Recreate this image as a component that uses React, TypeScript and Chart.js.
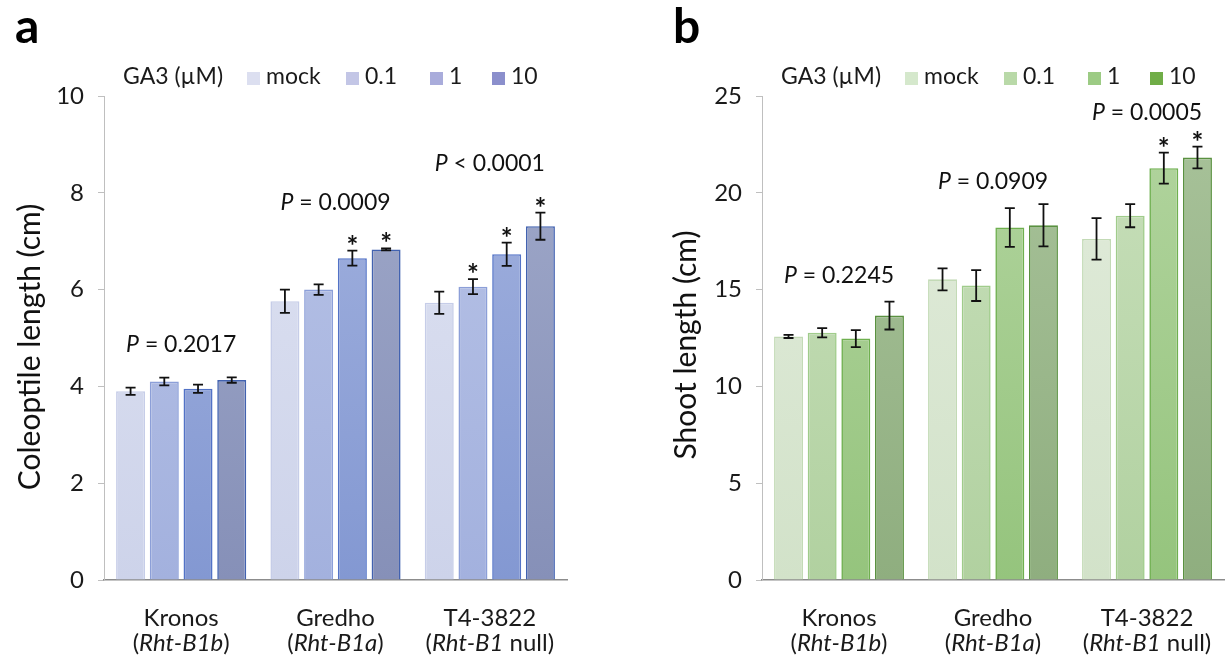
import React, { useEffect, useRef } from "react";
import { Chart, registerables } from "chart.js";
Chart.register(...registerables);

// ---------- shared categories ----------
const groups = ["Kronos", "Gredho", "T4-3822"];
const alleles = ["Rht-B1b", "Rht-B1a", "Rht-B1"];
const alleleSuffix = ["", "", " null"];
const treatments = ["mock", "0.1", "1", "10"];

// ---------- panel a: coleoptile length (cm) ----------
const coleoptileMock = [3.9, 5.76, 5.73];
const coleoptile01 = [4.1, 6.0, 6.06];
const coleoptile1 = [3.95, 6.65, 6.73];
const coleoptile10 = [4.13, 6.83, 7.31];
const coleoptileMockErr = [0.075, 0.24, 0.23];
const coleoptile01Err = [0.08, 0.11, 0.155];
const coleoptile1Err = [0.085, 0.155, 0.24];
const coleoptile10Err = [0.055, 0.02, 0.28];
const coleoptileSigMock = [false, false, false];
const coleoptileSig01 = [false, false, true];
const coleoptileSig1 = [false, true, true];
const coleoptileSig10 = [false, true, true];
const coleoptilePOp = ["=", "=", "<"];
const coleoptilePValue = ["0.2017", "0.0009", "0.0001"];
const coleoptilePLevel = [4.87, 7.8, 8.6];
const coleoptileTicks = [0, 2, 4, 6, 8, 10];

// ---------- panel b: shoot length (cm) ----------
const shootMock = [12.58, 15.53, 17.62];
const shoot01 = [12.77, 15.21, 18.82];
const shoot1 = [12.47, 18.21, 21.27];
const shoot10 = [13.66, 18.32, 21.82];
const shootMockErr = [0.08, 0.57, 1.07];
const shoot01Err = [0.24, 0.8, 0.6];
const shoot1Err = [0.44, 1.0, 0.8];
const shoot10Err = [0.72, 1.09, 0.56];
const shootSigMock = [false, false, false];
const shootSig01 = [false, false, false];
const shootSig1 = [false, false, true];
const shootSig10 = [false, false, true];
const shootPOp = ["=", "=", "="];
const shootPValue = ["0.2245", "0.0909", "0.0005"];
const shootPLevel = [15.7, 20.6, 24.16];
const shootTicks = [0, 5, 10, 15, 20, 25];

const FONT = "Lato";
const TEXT = "#1a1a1a";

type PanelCfg = {
  letter: string;
  letterX: number;
  yTitle: string;
  titleX: number;
  titleY: number;
  ticks: number[];
  series: number[][];
  errors: number[][];
  sig: boolean[][];
  pOp: string[];
  pValue: string[];
  pLevel: number[];
  fillTop: string[];
  fillBottom: string[];
  borders: string[];
  legendColors: string[];
  areaLeft: number;
  areaRight: number;
  width: number;
};

const panelA: PanelCfg = {
  letter: "a",
  letterX: 15,
  yTitle: "Coleoptile length (cm)",
  titleX: 30,
  titleY: 347,
  ticks: coleoptileTicks,
  series: [coleoptileMock, coleoptile01, coleoptile1, coleoptile10],
  errors: [coleoptileMockErr, coleoptile01Err, coleoptile1Err, coleoptile10Err],
  sig: [coleoptileSigMock, coleoptileSig01, coleoptileSig1, coleoptileSig10],
  pOp: coleoptilePOp,
  pValue: coleoptilePValue,
  pLevel: coleoptilePLevel,
  fillTop: ["#dfe3f2", "#b9c4e7", "#a4b3df", "#a1aaca"],
  fillBottom: ["#cdd3ea", "#a3b1de", "#8398d2", "#8690b8"],
  borders: ["#c6cde8", "#8c9fd8", "#5272c6", "#4262b0"],
  legendColors: ["#dcdff0", "#c3c6e6", "#a9acdb", "#8b8fcc"],
  areaLeft: 104,
  areaRight: 567,
  width: 612,
};

const panelB: PanelCfg = {
  letter: "b",
  letterX: 61,
  yTitle: "Shoot length (cm)",
  titleX: 74,
  titleY: 345,
  ticks: shootTicks,
  series: [shootMock, shoot01, shoot1, shoot10],
  errors: [shootMockErr, shoot01Err, shoot1Err, shoot10Err],
  sig: [shootSigMock, shootSig01, shootSig1, shootSig10],
  pOp: shootPOp,
  pValue: shootPValue,
  pLevel: shootPLevel,
  fillTop: ["#e2ecdc", "#c9e0bc", "#b3d5a0", "#a9c39b"],
  fillBottom: ["#d2e2c9", "#b1d1a0", "#95c47d", "#8fae7f"],
  borders: ["#c3dab6", "#a0cc8b", "#6fb04f", "#5a9140"],
  legendColors: ["#d5e8cc", "#b9d9a8", "#9ccb84", "#70ad47"],
  areaLeft: 150,
  areaRight: 612,
  width: 613,
};

const annotPlugin = {
  id: "annot",
  afterDatasetsDraw(chart: any, _args: any, opts: any) {
    const cfg: PanelCfg = opts.cfg;
    const ctx = chart.ctx;
    const ys = chart.scales.y;
    const xs = chart.scales.x;
    ctx.save();
    // error bars + asterisks
    cfg.series.forEach((vals, k) => {
      const meta = chart.getDatasetMeta(k);
      vals.forEach((v, j) => {
        const bar = meta.data[j];
        const e = cfg.errors[k][j];
        const x = bar.x;
        const yT = ys.getPixelForValue(v + e);
        const yB = ys.getPixelForValue(v - e);
        ctx.strokeStyle = "#111";
        ctx.lineWidth = 1.8;
        ctx.beginPath();
        ctx.moveTo(x, yT);
        ctx.lineTo(x, yB);
        ctx.moveTo(x - 5, yT);
        ctx.lineTo(x + 5, yT);
        ctx.moveTo(x - 5, yB);
        ctx.lineTo(x + 5, yB);
        ctx.stroke();
        if (cfg.sig[k][j]) {
          ctx.fillStyle = "#111";
          ctx.font = `bold 28px ${FONT}`;
          ctx.textAlign = "center";
          ctx.textBaseline = "alphabetic";
          ctx.fillText("*", x, yT + 5);
        }
      });
    });
    // P labels
    groups.forEach((_g, j) => {
      const cx = xs.getPixelForValue(j);
      const cy = ys.getPixelForValue(cfg.pLevel[j]);
      const rest = ` ${cfg.pOp[j]} ${cfg.pValue[j]}`;
      ctx.font = `italic 23px ${FONT}`;
      const wP = ctx.measureText("P").width;
      ctx.font = `23px ${FONT}`;
      const wR = ctx.measureText(rest).width;
      const x0 = cx - (wP + wR) / 2;
      ctx.fillStyle = "#111";
      ctx.textAlign = "left";
      ctx.textBaseline = "middle";
      ctx.font = `italic 23px ${FONT}`;
      ctx.fillText("P", x0, cy);
      ctx.font = `23px ${FONT}`;
      ctx.fillText(rest, x0 + wP, cy);
    });
    ctx.restore();
  },
  afterDraw(chart: any, _args: any, opts: any) {
    const cfg: PanelCfg = opts.cfg;
    const ctx = chart.ctx;
    const area = chart.chartArea;
    const xs = chart.scales.x;
    ctx.save();
    // panel letter
    ctx.fillStyle = "#000";
    ctx.font = `bold 48px ${FONT}`;
    ctx.textAlign = "left";
    ctx.textBaseline = "alphabetic";
    ctx.fillText(cfg.letter, cfg.letterX, 43);
    // legend
    const lx = area.left + 19;
    const ly = 77;
    ctx.font = `23px ${FONT}`;
    ctx.textBaseline = "middle";
    ctx.fillStyle = TEXT;
    ctx.fillText("GA3 (µM)", lx, ly);
    const offs = [124, 223, 307, 369];
    treatments.forEach((t, k) => {
      const bx = lx + offs[k];
      ctx.fillStyle = cfg.legendColors[k];
      ctx.fillRect(bx, ly - 5, 13, 13);
      ctx.fillStyle = TEXT;
      ctx.fillText(t, bx + 19, ly);
    });
    // x labels
    groups.forEach((g, j) => {
      const cx = xs.getPixelForValue(j);
      ctx.fillStyle = TEXT;
      ctx.textAlign = "center";
      ctx.font = `24px ${FONT}`;
      ctx.fillText(g, cx, 618);
      const a = alleles[j];
      const s = alleleSuffix[j] + ")";
      ctx.font = `24px ${FONT}`;
      const w1 = ctx.measureText("(").width;
      const w3 = ctx.measureText(s).width;
      ctx.font = `italic 24px ${FONT}`;
      const w2 = ctx.measureText(a).width;
      const x0 = cx - (w1 + w2 + w3) / 2;
      ctx.textAlign = "left";
      ctx.font = `24px ${FONT}`;
      ctx.fillText("(", x0, 643);
      ctx.font = `italic 24px ${FONT}`;
      ctx.fillText(a, x0 + w1, 643);
      ctx.font = `24px ${FONT}`;
      ctx.fillText(s, x0 + w1 + w2, 643);
    });
    // y title
    ctx.translate(cfg.titleX, cfg.titleY);
    ctx.rotate(-Math.PI / 2);
    ctx.textAlign = "center";
    ctx.textBaseline = "middle";
    ctx.fillStyle = "#111";
    ctx.font = `30px ${FONT}`;
    ctx.fillText(cfg.yTitle, 0, 0);
    ctx.restore();
  },
};

function makeGradient(top: string, bottom: string) {
  return (c: any) => {
    const ch = c.chart;
    const a = ch.chartArea;
    if (!a) return bottom;
    const g = ch.ctx.createLinearGradient(0, a.top, 0, a.bottom);
    g.addColorStop(0, top);
    g.addColorStop(1, bottom);
    return g;
  };
}

function Panel({ cfg }: { cfg: PanelCfg }) {
  const ref = useRef<HTMLCanvasElement | null>(null);
  useEffect(() => {
    if (!ref.current) return;
    const yMax = cfg.ticks[cfg.ticks.length - 1];
    const step = cfg.ticks[1] - cfg.ticks[0];
    const chart = new Chart(ref.current, {
      type: "bar",
      data: {
        labels: groups,
        datasets: treatments.map((t, k) => ({
          label: t,
          data: cfg.series[k],
          backgroundColor: makeGradient(cfg.fillTop[k], cfg.fillBottom[k]),
          borderColor: cfg.borders[k],
          borderWidth: 1.6,
          categoryPercentage: 0.874,
          barPercentage: 0.86,
        })),
      },
      options: {
        responsive: false,
        animation: false,
        layout: { padding: { top: 96, right: cfg.width - cfg.areaRight, left: 0, bottom: 0 } },
        plugins: {
          legend: { display: false },
          tooltip: { enabled: false },
          annot: { cfg },
        } as any,
        scales: {
          x: {
            grid: { display: false },
            border: { color: "#8c8c8c", width: 1.5 },
            ticks: { display: false },
            afterFit: (s: any) => {
              s.height = 80;
            },
          },
          y: {
            min: 0,
            max: yMax,
            ticks: {
              stepSize: step,
              font: { family: FONT, size: 24 },
              color: TEXT,
              padding: 14,
            },
            grid: { drawOnChartArea: false, color: "#bfbfbf", tickLength: 6, lineWidth: 1 },
            border: { color: "#bfbfbf", width: 1 },
            afterFit: (s: any) => {
              s.width = cfg.areaLeft;
            },
          },
        },
      },
      plugins: [annotPlugin],
    });
    return () => chart.destroy();
  }, [cfg]);
  return <canvas ref={ref} width={cfg.width} height={660} style={{ display: "block" }} />;
}

export default function App() {
  return (
    <div
      style={{
        position: "absolute",
        left: 0,
        top: 0,
        width: 1225,
        height: 660,
        display: "flex",
        background: "#fff",
      }}
    >
      <Panel cfg={panelA} />
      <Panel cfg={panelB} />
    </div>
  );
}
